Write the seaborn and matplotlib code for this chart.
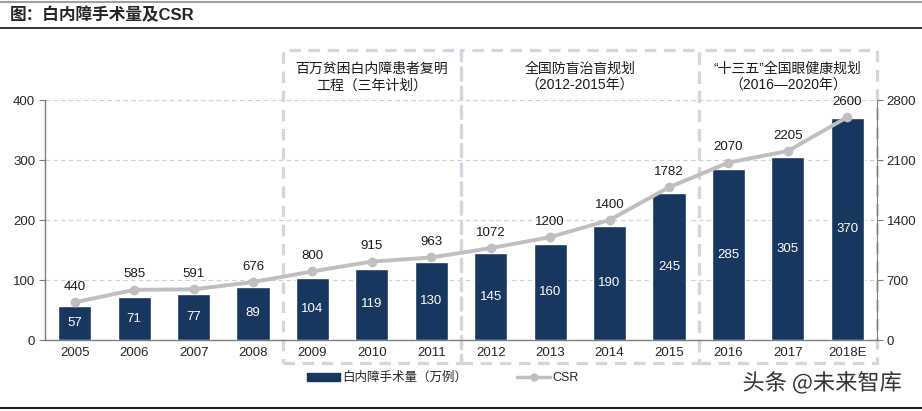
import matplotlib
matplotlib.use("Agg")
import matplotlib.pyplot as plt
import matplotlib.patches as mpatches
from matplotlib.lines import Line2D
import matplotlib.patheffects as pe
import seaborn as sns
import numpy as np
import pandas as pd

years = ["2005", "2006", "2007", "2008", "2009", "2010", "2011", "2012",
         "2013", "2014", "2015", "2016", "2017", "2018E"]
surgeries = [57, 71, 77, 89, 104, 119, 130, 145, 160, 190, 245, 285, 305, 370]
csr = [440, 585, 591, 676, 800, 915, 963, 1072, 1200, 1400, 1782, 2070, 2205, 2600]
box_texts = ["百万贫困白内障患者复明\n工程（三年计划）",
             "全国防盲治盲规划\n（2012-2015年）",
             "“十三五”全国眼健康规划\n（2016—2020年）"]
box_ranges = [(3.5, 6.5), (6.5, 10.5), (10.5, 13.5)]

sns.set_style("white")
plt.rcParams['font.family'] = ['Liberation Sans', 'Noto Sans CJK SC', 'DejaVu Sans']
CJK = ['Noto Sans CJK SC', 'DejaVu Sans']
MIX = ['Liberation Sans', 'Noto Sans CJK SC']

W, H = 922, 411
fig = plt.figure(figsize=(W / 100, H / 100), dpi=100)
ax = fig.add_axes([45 / W, 1 - 340 / H, (877 - 45) / W, (340 - 100) / H])

df = pd.DataFrame({"year": years, "val": surgeries})
bar_color = "#17375e"
sns.barplot(data=df, x="year", y="val", color=bar_color, width=0.56,
            saturation=1, ax=ax, zorder=3)
ax.set_xlim(-0.5, len(years) - 0.5)
ax.set_ylim(0, 400)
ax.set_yticks([0, 100, 200, 300, 400])
ax.set_xlabel("")
ax.set_ylabel("")
ax.grid(axis="y", color="#d0d0d0", linestyle=(0, (4, 3)), linewidth=0.8, zorder=0)
ax.set_axisbelow(True)

for i, v in enumerate(surgeries):
    ax.text(i, v / 2, str(v), color="white", ha="center", va="center",
            fontsize=9.5, zorder=5)

for s in ["top", "right"]:
    ax.spines[s].set_visible(False)
for s in ["left", "bottom"]:
    ax.spines[s].set_color("#7f7f7f")
    ax.spines[s].set_linewidth(1.0)
ax.tick_params(axis="y", length=4, color="#7f7f7f", labelsize=9.5, pad=3)
ax.tick_params(axis="x", which="major", length=0, labelsize=9.5, pad=5)
ax.set_xticks(np.arange(0.5, len(years) - 1, 1), minor=True)
ax.tick_params(axis="x", which="minor", length=4, color="#7f7f7f", direction="out")

ax2 = ax.twinx()
sns.lineplot(x=np.arange(len(years)), y=csr, ax=ax2, color="#bfbfbf",
             linewidth=2.8, marker="o", markersize=7, markeredgewidth=0, zorder=4)
ax2.set_ylim(0, 2800)
ax2.set_yticks([0, 700, 1400, 2100, 2800])
for s in ["top", "left", "bottom"]:
    ax2.spines[s].set_visible(False)
ax2.spines["right"].set_color("#7f7f7f")
ax2.tick_params(axis="y", length=4, color="#7f7f7f", labelsize=9.5, pad=3)
for i, v in enumerate(csr):
    ax2.text(i, v + 110, str(v), ha="center", va="bottom", fontsize=9.5,
             color="#1a1a1a", zorder=5)

# dashed boxes and their texts
ytop_data = 400 + 50 / 0.6
ybot_data = -23 / 0.6
for (x0, x1), txt in zip(box_ranges, box_texts):
    rect = mpatches.Rectangle((x0, ybot_data), x1 - x0, ytop_data - ybot_data,
                              fill=False, edgecolor="#d2d6dd", linewidth=2.3,
                              linestyle=(0, (3.6, 2.4)), clip_on=False, zorder=1,
                              transform=ax.transData)
    ax.add_patch(rect)
    ax.text((x0 + x1) / 2, 400 + 7 / 0.6, txt, ha="center", va="bottom",
            fontsize=10, family=MIX, linespacing=1.3, color="#1a1a1a", clip_on=False)

# title and separator lines
fig.text(10 / W, 1 - 15 / H, "图：白内障手术量及CSR", fontsize=12, fontweight="bold",
         family=MIX, va="center", ha="left")
fig.add_artist(Line2D([0, 1], [1 - 2 / H, 1 - 2 / H], color="#a0a0a0", linewidth=1.5))
fig.add_artist(Line2D([0, 1], [1 - 28 / H, 1 - 28 / H], color="#222222", linewidth=1.3))
fig.add_artist(Line2D([0, 1], [1 - 408 / H, 1 - 408 / H], color="#222222", linewidth=1.5))

# legend
handles = [mpatches.Patch(color=bar_color, label="白内障手术量（万例）"),
           Line2D([], [], color="#bfbfbf", linewidth=2.5, marker="o", markersize=6,
                  markeredgewidth=0, label="CSR")]
fig.legend(handles=handles, loc="center left", bbox_to_anchor=(296 / W, 1 - 378 / H),
           ncol=2, frameon=False, columnspacing=4.0,
           handlelength=2.6, handleheight=0.6, handletextpad=0.2,
           prop={'family': MIX, 'size': 9})

# watermark
fig.text(902 / W, 1 - 383 / H, "头条 @未来智库", fontsize=16, ha="right", va="center",
         family=CJK, color="#333333",
         path_effects=[pe.withStroke(linewidth=2, foreground="white")])

fig.savefig("out.png", dpi=100)
